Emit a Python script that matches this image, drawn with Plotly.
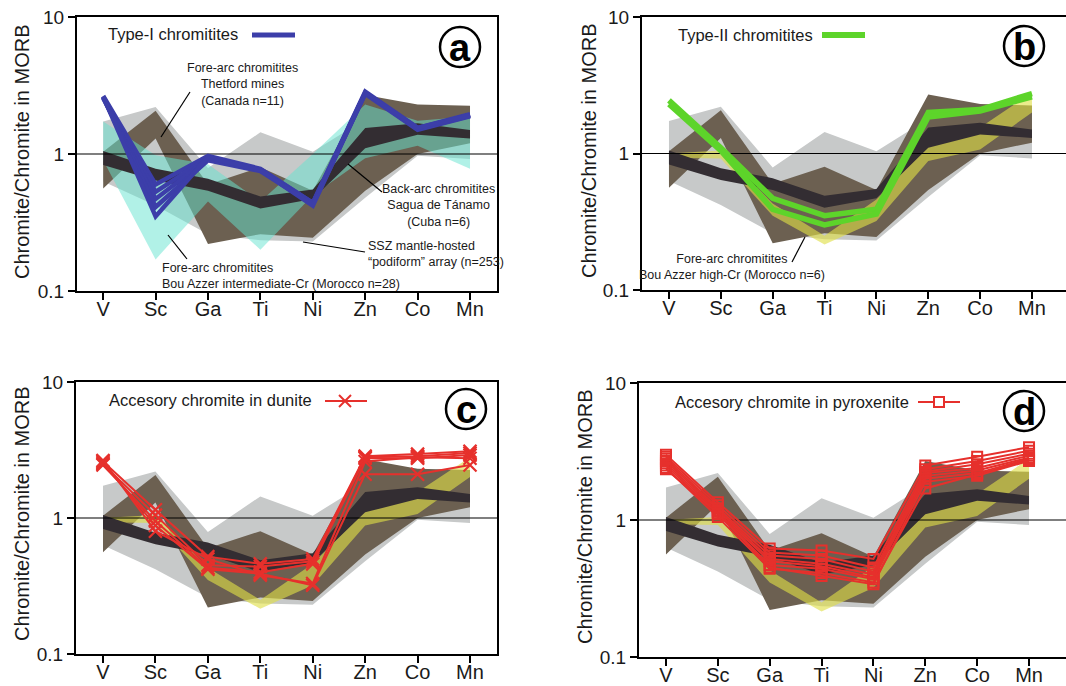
import plotly.graph_objects as go

W, H = 1066, 686

CATEGORIES = ["V", "Sc", "Ga", "Ti", "Ni", "Zn", "Co", "Mn"]
IDX = list(range(len(CATEGORIES)))
REF_LEVEL = 1.0

# Background fields (upper / lower envelopes)
SSZ_UPPER = [1.73, 2.2, 0.79, 1.44, 1.04, 1.8, 2.0, 2.0]
SSZ_LOWER = [0.63, 0.42, 0.26, 0.235, 0.23, 0.48, 0.97, 0.92]
THETFORD_UPPER = [1.04, 2.07, 0.6, 0.8, 0.54, 2.7, 2.3, 2.25]
THETFORD_LOWER = [0.56, 1.3, 0.22, 0.26, 0.245, 0.54, 1.0, 1.2]
SAGUA_UPPER = [1.05, 0.78, 0.66, 0.49, 0.55, 1.55, 1.68, 1.5]
SAGUA_LOWER = [0.83, 0.64, 0.54, 0.40, 0.47, 1.1, 1.38, 1.3]
BOU_INT_UPPER = [1.73, 0.98, 0.84, 0.45, 1.0, 2.3, 1.75, 1.88]
BOU_INT_LOWER = [0.9, 0.17, 0.45, 0.2, 0.5, 0.93, 1.15, 0.78]
BOU_HIGH_UPPER = [1.0, 1.05, 0.43, 0.25, 0.46, 1.12, 1.55, 2.8]
BOU_HIGH_LOWER = [0.93, 0.92, 0.35, 0.215, 0.32, 0.88, 1.07, 2.0]

# Sample series
TYPE1 = [
    [2.65, 0.60, 0.97, 0.78, 0.44, 2.85, 1.55, 1.95],
    [2.60, 0.53, 0.94, 0.77, 0.44, 2.80, 1.53, 1.92],
    [2.55, 0.47, 0.92, 0.76, 0.43, 2.78, 1.52, 1.90],
    [2.60, 0.41, 0.90, 0.75, 0.43, 2.75, 1.50, 1.88],
    [2.62, 0.35, 0.95, 0.76, 0.42, 2.80, 1.55, 1.92],
]
TYPE2 = [
    [2.45, 1.10, 0.47, 0.35, 0.39, 2.00, 2.10, 2.75],
    [2.30, 1.05, 0.39, 0.30, 0.36, 1.85, 2.05, 2.60],
]
DUNITE = [
    [2.60, 1.15, 0.52, 0.46, 0.50, 2.85, 2.95, 3.10],
    [2.50, 1.05, 0.45, 0.44, 0.48, 2.80, 2.85, 3.00],
    [2.45, 0.95, 0.43, 0.40, 0.46, 2.75, 2.75, 2.90],
    [2.55, 0.88, 0.42, 0.39, 0.32, 2.10, 2.10, 2.45],
    [2.65, 0.80, 0.50, 0.38, 0.33, 2.60, 2.80, 2.75],
]
PYROXENITE = [
    [3.00, 1.35, 0.62, 0.60, 0.52, 2.50, 2.90, 3.40],
    [2.90, 1.28, 0.58, 0.55, 0.45, 2.35, 2.70, 3.20],
    [2.80, 1.22, 0.55, 0.52, 0.42, 2.25, 2.55, 3.05],
    [2.70, 1.18, 0.52, 0.48, 0.40, 2.20, 2.40, 2.95],
    [2.60, 1.15, 0.50, 0.46, 0.38, 2.10, 2.30, 2.85],
    [2.50, 1.10, 0.47, 0.44, 0.37, 2.00, 2.20, 2.80],
    [2.40, 1.05, 0.44, 0.41, 0.35, 1.70, 2.15, 2.75],
    [2.35, 1.12, 0.45, 0.39, 0.34, 1.90, 2.10, 2.70],
]

Y_TICKS = [0.1, 1, 10]
Y_TICKTEXT = ["0.1", "1", "10"]
Y_TITLE = "Chromite/Chromite in MORB"

# colours
C_GRAY = "#c7c9c9"
C_BROWN = "#6c6051"
C_DARK = "#332d32"
C_CYAN = "rgba(100,228,208,0.5)"
C_YELLOW = "rgba(222,222,70,0.62)"
C_BLUE = "#3c3ea9"
C_GREEN = "#5dd42a"
C_RED = "#e6302c"
TXT = "#1a1a1a"
FONT = "Liberation Sans, Arial, sans-serif"

# panel geometry in pixels: (left, right, top, bottom), x range
PANELS = {
    "a": dict(px=(77, 497, 17, 291), xr=[-0.5, 7.515], mirror_y=True),
    "b": dict(px=(642, 1066, 17, 290), xr=[-0.52, 7.656], mirror_y=False),
    "c": dict(px=(76, 497, 382, 654), xr=[-0.515, 7.515], mirror_y=True),
    "d": dict(px=(639, 1066, 383, 657), xr=[-0.52, 7.713], mirror_y=False),
}


def px_x(x):
    return x / W


def px_y(y):
    return 1 - y / H


fig = go.Figure()
layout = dict(
    width=W, height=H, margin=dict(l=0, r=0, t=0, b=0, autoexpand=False),
    paper_bgcolor="white", plot_bgcolor="white", showlegend=False,
    font=dict(family=FONT, color=TXT),
)
shapes = []
annotations = []

for i, (name, p) in enumerate(PANELS.items()):
    n = "" if i == 0 else str(i + 1)
    l, r, t, b = p["px"]
    layout["xaxis" + n] = dict(
        domain=[px_x(l), min(1.0, px_x(r))], range=p["xr"], anchor="y" + n,
        tickmode="array", tickvals=IDX, ticktext=CATEGORIES,
        showgrid=False, zeroline=False, showline=True, linecolor="black",
        linewidth=2, mirror=True, ticks="outside", ticklen=7, tickwidth=2,
        tickcolor="black", tickfont=dict(size=20, family=FONT, color=TXT),
        ticklabelstandoff=-8, automargin=False, fixedrange=True,
    )
    layout["yaxis" + n] = dict(
        domain=[px_y(b), px_y(t)], type="log", range=[-1, 1], anchor="x" + n,
        tickmode="array", tickvals=Y_TICKS, ticktext=Y_TICKTEXT,
        showgrid=False, zeroline=False, showline=True, linecolor="black",
        linewidth=2, mirror=p["mirror_y"], ticks="outside", ticklen=7,
        tickwidth=2, tickcolor="black", automargin=False,
        tickfont=dict(size=19, family=FONT, color=TXT), fixedrange=True,
    )
    xa, ya = "x" + n, "y" + n

    def field(upper, lower, color):
        fig.add_trace(go.Scatter(
            x=IDX + IDX[::-1], y=upper + lower[::-1], xaxis=xa, yaxis=ya,
            mode="lines", fill="toself", fillcolor=color,
            line=dict(width=0, color=color), hoverinfo="skip"))

    field(SSZ_UPPER, SSZ_LOWER, C_GRAY)
    field(THETFORD_UPPER, THETFORD_LOWER, C_BROWN)
    if name == "a":
        field(BOU_INT_UPPER, BOU_INT_LOWER, C_CYAN)
    else:
        field(BOU_HIGH_UPPER, BOU_HIGH_LOWER, C_YELLOW)
    field(SAGUA_UPPER, SAGUA_LOWER, C_DARK)

    # reference line at 1
    fig.add_trace(go.Scatter(
        x=p["xr"], y=[REF_LEVEL, REF_LEVEL], xaxis=xa, yaxis=ya, mode="lines",
        line=dict(color="black", width=1.2), hoverinfo="skip"))

    if name == "a":
        for s in TYPE1:
            fig.add_trace(go.Scatter(x=IDX, y=s, xaxis=xa, yaxis=ya, mode="lines",
                                     line=dict(color=C_BLUE, width=4.5)))
    elif name == "b":
        for s in TYPE2:
            fig.add_trace(go.Scatter(x=IDX, y=s, xaxis=xa, yaxis=ya, mode="lines",
                                     line=dict(color=C_GREEN, width=5.5)))
    elif name == "c":
        for s in DUNITE:
            fig.add_trace(go.Scatter(
                x=IDX, y=s, xaxis=xa, yaxis=ya, mode="lines+markers",
                line=dict(color=C_RED, width=2),
                marker=dict(symbol="x-thin", size=13,
                            line=dict(color=C_RED, width=2.2))))
    else:
        for s in PYROXENITE:
            fig.add_trace(go.Scatter(
                x=IDX, y=s, xaxis=xa, yaxis=ya, mode="lines+markers",
                line=dict(color=C_RED, width=2),
                marker=dict(symbol="square-open", size=10, color=C_RED,
                            line=dict(color=C_RED, width=2))))


def text(x, y, s, size, xanchor="center", align="center"):
    annotations.append(dict(
        x=px_x(x), y=px_y(y), xref="paper", yref="paper", text=s,
        showarrow=False, xanchor=xanchor, yanchor="middle", align=align,
        font=dict(size=size, family=FONT, color=TXT)))


def seg(x0, y0, x1, y1, color="black", width=1.2):
    shapes.append(dict(type="line", xref="paper", yref="paper",
                       x0=px_x(x0), y0=px_y(y0), x1=px_x(x1), y1=px_y(y1),
                       line=dict(color=color, width=width)))


# y-axis titles
for cx, cy in [(22, 152), (589, 151), (22, 514), (585, 517)]:
    annotations.append(dict(
        x=px_x(cx), y=px_y(cy), xref="paper", yref="paper", text=Y_TITLE,
        showarrow=False, textangle=-90, xanchor="center", yanchor="middle",
        font=dict(size=20, family=FONT, color=TXT)))

# legends (text + sample)
text(106, 34, "Type-I chromitites", 16.5, xanchor="left")
seg(252, 35, 295, 35, C_BLUE, 5)
text(676, 35, "Type-II chromitites", 16.5, xanchor="left")
seg(822, 35, 865, 35, C_GREEN, 6)
text(107, 400, "Accesory chromite in dunite", 16.5, xanchor="left")
seg(325, 401, 367, 401, C_RED, 2)
seg(339, 395, 351, 407, C_RED, 2)
seg(339, 407, 351, 395, C_RED, 2)
text(673, 402, "Accesory chromite in pyroxenite", 16.5, xanchor="left")
seg(918, 402, 960, 402, C_RED, 2)
shapes.append(dict(type="rect", xref="paper", yref="paper",
                   x0=px_x(934), x1=px_x(944), y0=px_y(407), y1=px_y(397),
                   line=dict(color=C_RED, width=2), fillcolor="white"))

# panel letters
for letter, cx, cy in [("a", 460, 47), ("b", 1024, 46), ("c", 466, 409), ("d", 1024, 411)]:
    shapes.append(dict(type="circle", xref="paper", yref="paper",
                       x0=px_x(cx - 20), x1=px_x(cx + 20),
                       y0=px_y(cy + 20), y1=px_y(cy - 20),
                       line=dict(color="black", width=2.5)))
    annotations.append(dict(
        x=px_x(cx), y=px_y(cy + 1), xref="paper", yref="paper",
        text="<b>%s</b>" % letter, showarrow=False, xanchor="center",
        yanchor="middle", font=dict(size=38, family=FONT, color="black")))

# field labels panel a
text(242, 84, "Fore-arc chromitites<br>Thetford mines<br>(Canada n=11)", 12.5)
seg(190, 92, 161, 137)
text(438, 205, "Back-arc chromitites<br>Sagua de Tánamo<br>(Cuba n=6)", 12.5)
seg(382, 192, 348, 164)
text(366, 254.5, "SSZ mantle-hosted<br>“podiform” array (n=253)", 12.5,
     xanchor="left", align="left")
seg(365, 252, 303, 242)
text(160, 275.5, "Fore-arc chromitites<br>Bou Azzer intermediate-Cr (Morocco n=28)",
     12.5, xanchor="left", align="left")
seg(187, 259, 168, 235)
# panel b
text(732, 267, "Fore-arc chromitites<br>Bou Azzer high-Cr (Morocco n=6)", 12.5)
seg(792, 262, 805, 237)

layout["shapes"] = shapes
layout["annotations"] = annotations
fig.update_layout(**layout)

fig.write_html(
    "out.html",
    config={"displayModeBar": False},
    post_script="document.body.style.margin='0';document.body.style.overflow='hidden';",
)
